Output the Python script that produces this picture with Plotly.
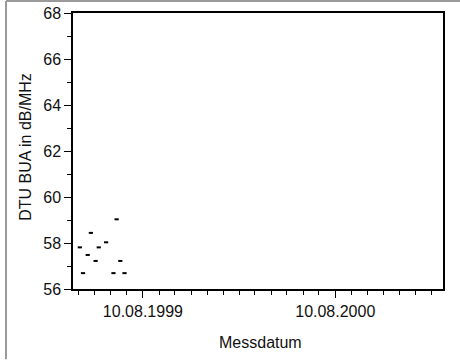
import plotly.graph_objects as go

dates = ["1999-04-12", "1999-04-18", "1999-04-27", "1999-05-03", "1999-05-12",
         "1999-05-18", "1999-06-01", "1999-06-15", "1999-06-21", "1999-06-28",
         "1999-07-06"]
bua = [57.81, 56.69, 57.48, 58.44, 57.22, 57.81, 58.03, 56.69, 59.03, 57.22, 56.69]

x_title = "Messdatum"
y_title = "DTU BUA in dB/MHz"

W, H = 460, 360
L, R, T, B = 73, 17, 13, 70.5

fig = go.Figure(go.Scatter(
    x=dates, y=bua, mode="markers",
    marker=dict(symbol="line-ew", size=3, color="black",
                line=dict(color="black", width=2)),
    showlegend=False))

font = dict(family="Liberation Sans, Arial, sans-serif", size=16, color="#111")

fig.update_layout(
    width=W, height=H,
    margin=dict(l=L, r=R, t=T, b=B, autoexpand=False),
    paper_bgcolor="white", plot_bgcolor="white",
    font=font,
    xaxis=dict(
        type="date", range=["1999-03-30", "2001-03-03"],
        tick0="1999-08-10", dtick="M12", tickformat="%d.%m.%Y",
        ticks="outside", ticklen=7, tickwidth=1.3, tickcolor="black",
        minor=dict(dtick="M1", tick0="1999-08-10", ticks="outside", ticklen=4,
                   tickwidth=1.3, tickcolor="black", showgrid=False),
        showline=True, linecolor="black", linewidth=1.5, mirror=True,
        showgrid=False, zeroline=False, automargin=False,
        tickfont=dict(size=16),
    ),
    yaxis=dict(
        range=[56, 68], dtick=2, tick0=56,
        ticks="outside", ticklen=7, tickwidth=1.3, tickcolor="black",
        minor=dict(dtick=1, ticks="outside", ticklen=4, tickwidth=1.3,
                   tickcolor="black", showgrid=False),
        showline=True, linecolor="black", linewidth=1.5, mirror=True,
        showgrid=False, zeroline=False, automargin=False,
        tickfont=dict(size=16),
    ),
)

pw, ph = W - L - R, H - T - B
def px(xp): return (xp - L) / pw
def py(yp): return 1 - (yp - T) / ph

fig.add_annotation(text=x_title, xref="paper", yref="paper",
                   x=px(260), y=py(343), showarrow=False,
                   xanchor="center", yanchor="middle", font=dict(size=16))
fig.add_annotation(text=y_title, xref="paper", yref="paper",
                   x=px(26), y=py(147), showarrow=False, textangle=-90,
                   xanchor="center", yanchor="middle", font=dict(size=16))

fig.add_shape(type="line", xref="paper", yref="paper",
              x0=px(6), y0=py(360), x1=px(6), y1=py(1),
              line=dict(color="#9a9a9a", width=2))
fig.add_shape(type="line", xref="paper", yref="paper",
              x0=px(6), y0=py(1), x1=px(460), y1=py(1),
              line=dict(color="#9a9a9a", width=2))

fig.write_html("out.html", config={"displayModeBar": False},
               post_script="document.body.style.margin='0';document.body.style.overflow='hidden';")
